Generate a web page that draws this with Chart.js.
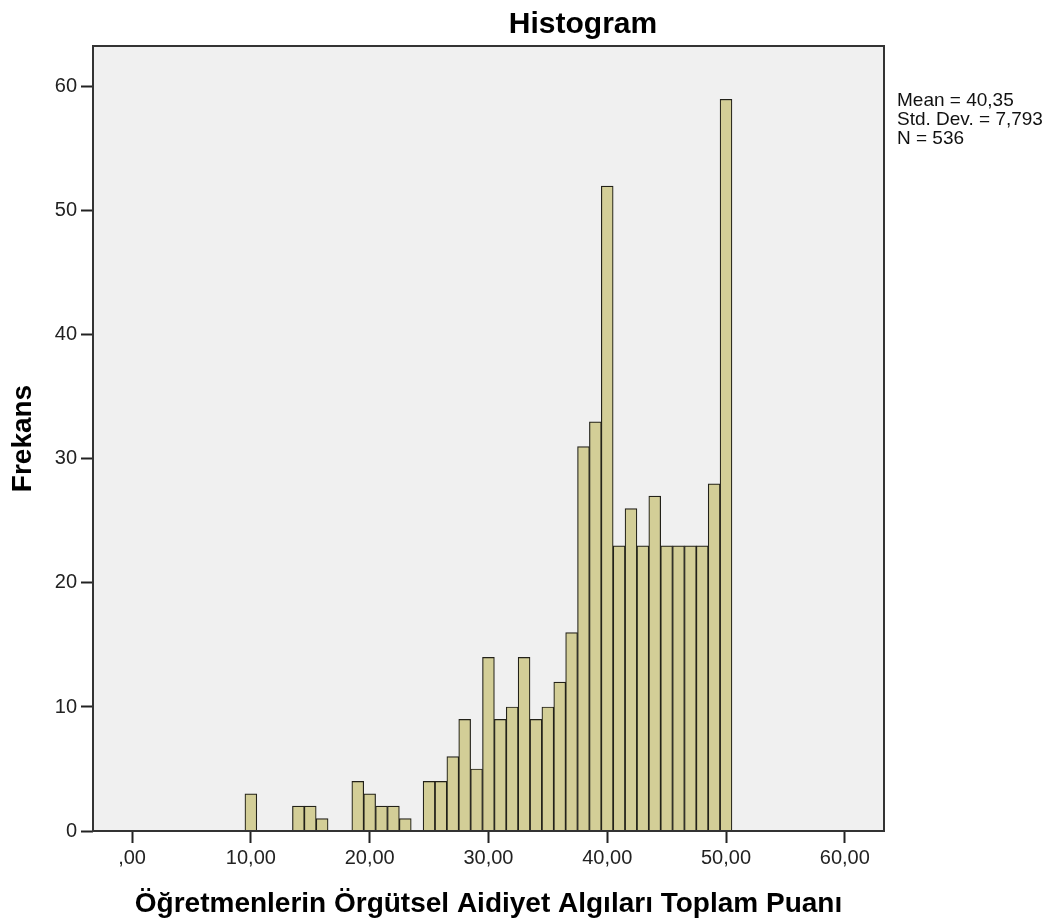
<!DOCTYPE html>
<html>
<head>
<meta charset="utf-8">
<title>Histogram</title>
<script src="https://cdn.jsdelivr.net/npm/chart.js@4.4.1/dist/chart.umd.min.js"></script>
<style>
  body { margin: 0; background: #fff; }
  canvas { display: block; }
</style>
</head>
<body>
<canvas id="histogram" width="1059" height="921"></canvas>
<script>
// Bin centres (bin width 1) and frequencies
const binCenters = [10, 11, 12, 13, 14, 15, 16, 17, 18, 19,
                    20, 21, 22, 23, 24, 25, 26, 27, 28, 29,
                    30, 31, 32, 33, 34, 35, 36, 37, 38, 39,
                    40, 41, 42, 43, 44, 45, 46, 47, 48, 49, 50];
const frequencies = [3, 0, 0, 0, 2, 2, 1, 0, 0, 4,
                     3, 2, 2, 1, 0, 4, 4, 6, 9, 5,
                     14, 9, 10, 14, 9, 10, 12, 16, 31, 33,
                     52, 23, 26, 23, 27, 23, 23, 23, 23, 28, 59];

const xTicks = [0, 10, 20, 30, 40, 50, 60];
const xTickLabels = [',00', '10,00', '20,00', '30,00', '40,00', '50,00', '60,00'];
const yTicks = [0, 10, 20, 30, 40, 50, 60];

const chartTitle = 'Histogram';
const xTitle = 'Öğretmenlerin Örgütsel Aidiyet Algıları Toplam Puanı';
const yTitle = 'Frekans';
const statsLines = ['Mean = 40,35', 'Std. Dev. = 7,793', 'N = 536'];

const FONT = '"Liberation Sans", Arial, sans-serif';

// skip empty bins so no zero-height outlines get drawn
const points = [];
binCenters.forEach(function(c, i) {
    if (frequencies[i] > 0) points.push({ x: c, y: frequencies[i] });
});

// grey plot background, frame, title and the stats text
const spssDecor = {
    id: 'spssDecor',
    beforeDraw(chart) {
        const ctx = chart.ctx;
        const a = chart.chartArea;
        ctx.save();
        ctx.fillStyle = '#ffffff';
        ctx.fillRect(0, 0, chart.width, chart.height);
        ctx.fillStyle = '#f0f0f0';
        ctx.fillRect(a.left, a.top, a.right - a.left, a.bottom - a.top);
        ctx.restore();
    },
    afterDraw(chart) {
        const ctx = chart.ctx;
        const a = chart.chartArea;
        ctx.save();
        ctx.strokeStyle = '#333333';
        ctx.lineWidth = 2;
        ctx.strokeRect(a.left, a.top, a.right - a.left, a.bottom - a.top);

        ctx.fillStyle = '#000000';
        ctx.font = 'bold 30px ' + FONT;
        ctx.textAlign = 'center';
        ctx.textBaseline = 'alphabetic';
        ctx.fillText(chartTitle, 583, 33);

        ctx.font = '19px ' + FONT;
        ctx.textAlign = 'left';
        ctx.fillStyle = '#111111';
        statsLines.forEach(function(line, i) {
            ctx.fillText(line, 897, 106 + i * 19);
        });
        ctx.restore();
    }
};

const ctx = document.getElementById('histogram').getContext('2d');
new Chart(ctx, {
    type: 'bar',
    data: {
        datasets: [{
            label: 'Frekans',
            data: points,
            backgroundColor: '#d3ce97',
            borderColor: '#222119',
            borderWidth: 1.2,
            barPercentage: 1.0,
            categoryPercentage: 1.0
        }]
    },
    options: {
        responsive: false,
        animation: false,
        layout: {
            padding: { top: 46, right: 175, left: 0, bottom: 0 }
        },
        scales: {
            x: {
                type: 'linear',
                min: -3.29,
                max: 63.3,
                offset: false,
                afterFit: function(s) { s.height = 90; },
                afterBuildTicks: function(s) {
                    s.ticks = xTicks.map(function(v) { return { value: v }; });
                },
                border: { display: false },
                grid: {
                    offset: false,
                    drawOnChartArea: false,
                    drawTicks: true,
                    tickLength: 12,
                    tickWidth: 2,
                    tickColor: '#222222'
                },
                ticks: {
                    color: '#222222',
                    font: { family: FONT, size: 20 },
                    padding: 3,
                    maxRotation: 0,
                    callback: function(value) {
                        const i = xTicks.indexOf(value);
                        return i >= 0 ? xTickLabels[i] : '';
                    }
                },
                title: {
                    display: true,
                    text: xTitle,
                    color: '#000000',
                    font: { family: FONT, size: 28, weight: 'bold', lineHeight: 1.2 },
                    padding: { top: 0, bottom: 0 }
                }
            },
            y: {
                type: 'linear',
                min: 0,
                max: 63.3,
                afterFit: function(s) { s.width = 93; },
                afterBuildTicks: function(s) {
                    s.ticks = yTicks.map(function(v) { return { value: v }; });
                },
                border: { display: false },
                grid: {
                    drawOnChartArea: false,
                    drawTicks: true,
                    tickLength: 12,
                    tickWidth: 2,
                    tickColor: '#222222'
                },
                ticks: {
                    color: '#222222',
                    font: { family: FONT, size: 20 },
                    padding: 4
                },
                title: {
                    display: true,
                    text: yTitle,
                    color: '#000000',
                    font: { family: FONT, size: 28, weight: 'bold', lineHeight: 1.2 },
                    padding: { top: 6, bottom: 0 }
                }
            }
        },
        plugins: {
            legend: { display: false },
            title: { display: false },
            tooltip: { enabled: false }
        }
    },
    plugins: [spssDecor]
});
</script>
</body>
</html>
